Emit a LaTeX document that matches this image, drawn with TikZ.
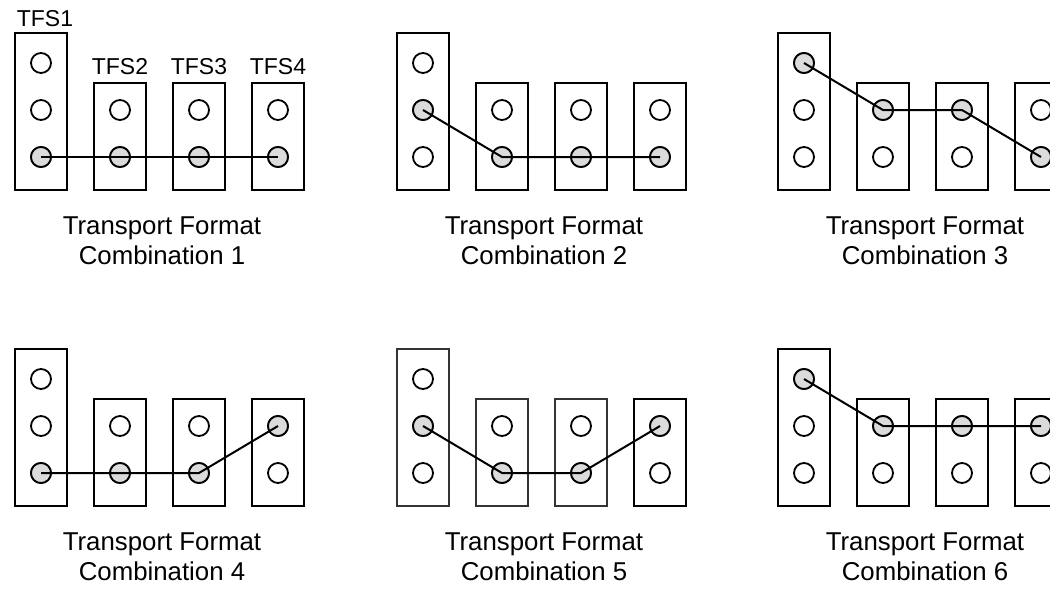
\documentclass[tikz,border=0pt]{standalone}
\usepackage{fontspec}
\setmainfont{Liberation Sans}
\begin{document}
\begin{tikzpicture}[x=1pt,y=-1pt,
    tfsbox/.style={draw, line width=2.7pt},
    thinbox/.style={draw=black!80, line width=1.5pt},
    slot/.style={circle, draw, line width=1.8pt, minimum size=20pt, inner sep=0pt},
    used/.style={slot, fill=black!14},
    link/.style={line width=2pt},
    lbl/.style={font=\fontsize{23}{28}\selectfont, inner sep=0pt, anchor=base},
    captext/.style={font=\fontsize{25.8}{30}\selectfont, align=center, inner sep=0pt, anchor=base}]
    \useasboundingbox (0,0) rectangle (1050,589);
    \clip (0,0) rectangle (1050,589);

    % panel number / offset / chosen row of TFS1..TFS4 / box style
    \foreach \n/\ox/\oy/\sa/\sb/\sc/\sd/\bx in {
        1/15/33/3/3/3/3/tfsbox, 2/397/33/2/3/3/3/tfsbox, 3/778/33/1/2/2/3/tfsbox,
        4/15/349/3/3/3/2/tfsbox, 5/397/349/2/3/3/2/thinbox, 6/778/349/1/2/2/2/tfsbox}{
        \begin{scope}[shift={(\ox,\oy)}]
            \draw[\bx] (0,0) rectangle (52,157);
            \foreach \k in {1,2}
                \draw[\bx] (79*\k,50) rectangle +(52,107);
            \draw[tfsbox] (237,50) rectangle +(52,107);

            \foreach \r in {1,2,3}
                \node[slot] (c\n-1-\r) at (26,{30+47*(\r-1)}) {};
            \foreach \k in {2,3,4}
                \foreach \r in {2,3}
                    \node[slot] (c\n-\k-\r) at ({79*(\k-1)+26},{30+47*(\r-1)}) {};

            \node[used] (s\n-1) at (26,{30+47*(\sa-1)}) {};
            \node[used] (s\n-2) at (105,{30+47*(\sb-1)}) {};
            \node[used] (s\n-3) at (184,{30+47*(\sc-1)}) {};
            \node[used] (s\n-4) at (263,{30+47*(\sd-1)}) {};
            \draw[link] (s\n-1.center) -- (s\n-2.center) -- (s\n-3.center) -- (s\n-4.center);

            \node[captext] (t\n) at (147,231) {Transport Format\\Combination \n};
        \end{scope}
    }

    \node[lbl] (tfs1) at (45,27) {TFS1};
    \node[lbl] (tfs2) at (120,74) {TFS2};
    \node[lbl] (tfs3) at (199,74) {TFS3};
    \node[lbl] (tfs4) at (278,74) {TFS4};
\end{tikzpicture}
\end{document}
